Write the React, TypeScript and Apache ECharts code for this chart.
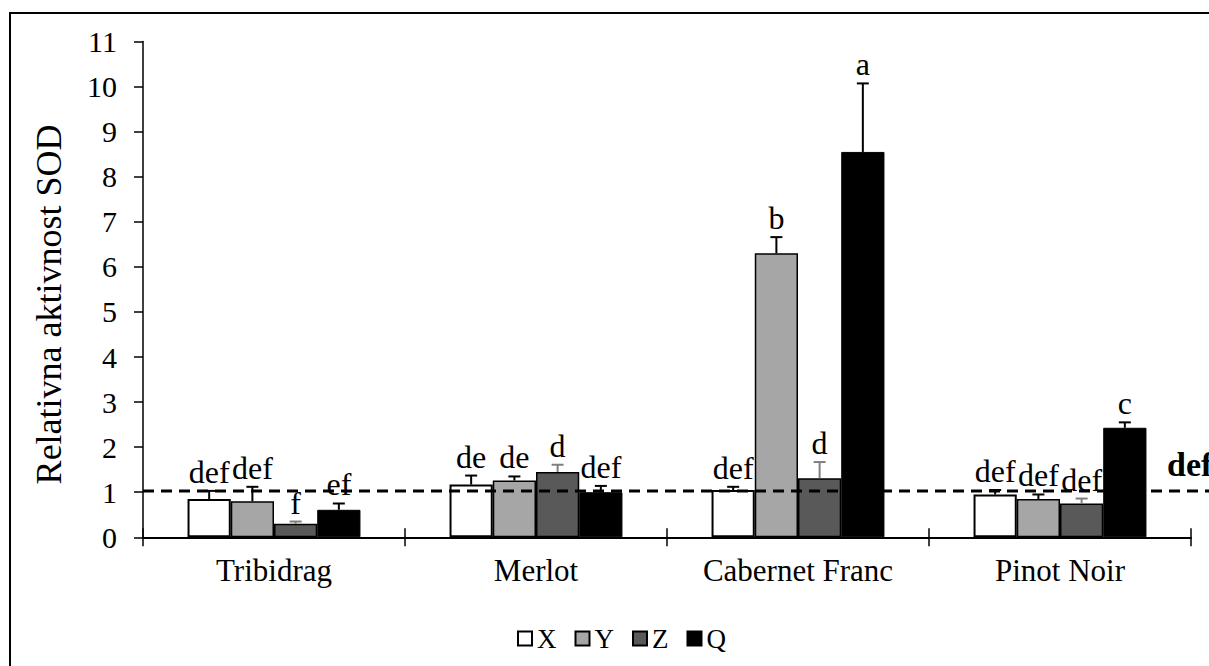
import React, { useEffect, useRef } from "react";
import * as echarts from "echarts";

const categories = ["Tribidrag", "Merlot", "Cabernet Franc", "Pinot Noir"];
const seriesNames = ["X", "Y", "Z", "Q"];

const valuesX = [0.85, 1.17, 1.05, 0.95];
const valuesY = [0.8, 1.26, 6.3, 0.85];
const valuesZ = [0.3, 1.45, 1.31, 0.75];
const valuesQ = [0.61, 1.0, 8.55, 2.43];

const errX = [0.18, 0.2, 0.07, 0.1];
const errY = [0.32, 0.09, 0.36, 0.1];
const errZ = [0.05, 0.16, 0.36, 0.11];
const errQ = [0.14, 0.14, 1.52, 0.12];

const lettersX = ["def", "de", "def", "def"];
const lettersY = ["def", "de", "b", "def"];
const lettersZ = ["f", "d", "d", "def"];
const lettersQ = ["ef", "def", "a", "c"];

const refLevel = 1.03;
const refLabel = "def";

const yTicksMin = 0;
const yTicksMax = 11;

const FONT = "Liberation Serif";
const GAP = 0.34;

const fills = ["#ffffff", "#a6a6a6", "#595959", "#000000"];
const borders = [2, 1.5, 1.5, 1];
const errColors = ["#000000", "#000000", "#7f7f7f", "#000000"];

const allValues = [valuesX, valuesY, valuesZ, valuesQ];
const allErr = [errX, errY, errZ, errQ];
const allLetters = [lettersX, lettersY, lettersZ, lettersQ];

export default function App() {
  const ref = useRef<HTMLDivElement>(null);
  useEffect(() => {
    if (!ref.current) return;
    const chart = echarts.init(ref.current, undefined, { renderer: "svg" });

    const barSeries = seriesNames.map((name, k) => ({
      type: "bar",
      name,
      xAxisIndex: 0,
      yAxisIndex: 0,
      data: allValues[k],
      barGap: "0%",
      barCategoryGap: GAP * 100 + "%",
      itemStyle: {
        color: fills[k],
        borderColor: "#000",
        borderWidth: borders[k],
      },
      emphasis: { disabled: true },
    }));

    const errSeries = seriesNames.map((name, k) => ({
      type: "custom",
      name: name + "_err",
      xAxisIndex: 0,
      yAxisIndex: 0,
      clip: false,
      z: 3,
      data: categories.map((c, i) => [i, allValues[k][i], allErr[k][i]]),
      renderItem: (params: any, api: any) => {
        const ci = api.value(0);
        const v = api.value(1);
        const e = api.value(2);
        const base = api.coord([ci, v]);
        const top = api.coord([ci, v + e]);
        const band = api.size([1, 0])[0];
        const total = band * (1 - GAP);
        const bw = total / 4;
        const cx = base[0] - total / 2 + bw * (k + 0.5);
        const col = errColors[k];
        return {
          type: "group",
          children: [
            {
              type: "line",
              shape: { x1: cx, y1: base[1], x2: cx, y2: top[1] },
              style: { stroke: col, lineWidth: 2 },
            },
            {
              type: "line",
              shape: { x1: cx - 6, y1: top[1], x2: cx + 6, y2: top[1] },
              style: { stroke: col, lineWidth: 2 },
            },
            {
              type: "text",
              x: cx,
              y: top[1] - 3,
              style: {
                text: allLetters[k][params.dataIndex],
                fontFamily: FONT,
                fontSize: 32,
                fill: "#000",
                align: "center",
                verticalAlign: "bottom",
              },
            },
          ],
        };
      },
    }));

    const option: any = {
      animation: false,
      backgroundColor: "#ffffff",
      textStyle: { fontFamily: FONT, color: "#000" },
      graphic: [
        {
          type: "rect",
          shape: { x: 10, y: 13, width: 1300, height: 700 },
          style: { fill: "none", stroke: "#000", lineWidth: 2 },
          silent: true,
        },
      ],
      legend: {
        data: seriesNames,
        icon: "rect",
        itemWidth: 14,
        itemHeight: 14,
        itemGap: 18,
        left: 512,
        top: 620,
        textStyle: { fontFamily: FONT, fontSize: 27, color: "#000" },
      },
      grid: [
        { left: 143, right: 18, top: 41.5, bottom: 128.7 },
        { left: 143, right: 0, top: 41.5, bottom: 128.7 },
      ],
      xAxis: [
        {
          type: "category",
          gridIndex: 0,
          data: categories,
          position: "bottom",
          axisLine: { show: true, lineStyle: { color: "#000", width: 2 } },
          axisTick: { show: true, length: 9, lineStyle: { color: "#000", width: 1.5 } },
          axisLabel: { fontFamily: FONT, fontSize: 31, color: "#000", margin: 18 },
          splitLine: { show: false },
        },
        {
          type: "category",
          gridIndex: 0,
          data: categories,
          position: "bottom",
          axisLine: { show: false },
          axisTick: { show: true, inside: true, length: 9, lineStyle: { color: "#000", width: 1.5 } },
          axisLabel: { show: false },
          splitLine: { show: false },
        },
        {
          type: "value",
          gridIndex: 1,
          min: 0,
          max: 1,
          show: false,
        },
      ],
      yAxis: [
        {
          type: "value",
          gridIndex: 0,
          min: yTicksMin,
          max: yTicksMax,
          interval: 1,
          name: "Relativna aktivnost SOD",
          nameLocation: "middle",
          nameGap: 76,
          nameTextStyle: {
            fontFamily: FONT,
            fontSize: 36,
            color: "#000",
            padding: [0, 30, 0, 0],
          },
          axisLine: { show: true, lineStyle: { color: "#000", width: 1.5 } },
          axisTick: { show: true, length: 9, lineStyle: { color: "#000", width: 1.5 } },
          axisLabel: { fontFamily: FONT, fontSize: 30, color: "#000", margin: 26 },
          splitLine: { show: false },
        },
        {
          type: "value",
          gridIndex: 1,
          min: yTicksMin,
          max: yTicksMax,
          show: false,
        },
      ],
      series: [
        ...barSeries,
        ...errSeries,
        {
          type: "line",
          name: "ref",
          xAxisIndex: 2,
          yAxisIndex: 1,
          data: [
            [0, refLevel],
            [1, refLevel],
          ],
          symbol: "none",
          z: 4,
          lineStyle: { color: "#000", width: 3, type: [11, 7] },
          emphasis: { disabled: true },
        },
        {
          type: "custom",
          name: "ref_label",
          xAxisIndex: 2,
          yAxisIndex: 1,
          clip: false,
          z: 5,
          data: [[1, refLevel]],
          renderItem: (params: any, api: any) => {
            const p = api.coord([api.value(0), api.value(1)]);
            return {
              type: "text",
              x: p[0] - 42,
              y: p[1] - 9,
              style: {
                text: refLabel,
                fontFamily: FONT,
                fontSize: 34,
                fontWeight: "bold",
                fill: "#000",
                align: "left",
                verticalAlign: "bottom",
              },
            };
          },
        },
      ],
    };
    chart.setOption(option);
    return () => chart.dispose();
  }, []);
  return (
    <div
      ref={ref}
      style={{ position: "fixed", left: 0, top: 0, width: 1209, height: 666, background: "#fff" }}
    />
  );
}
